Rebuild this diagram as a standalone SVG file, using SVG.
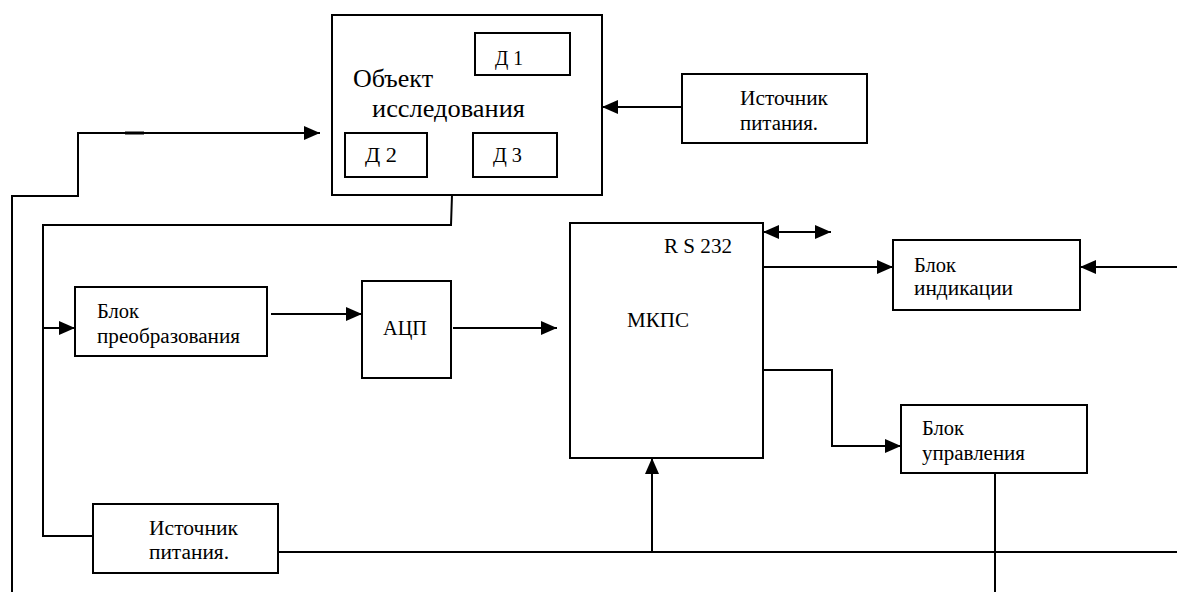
<svg xmlns="http://www.w3.org/2000/svg" width="1177" height="592" viewBox="0 0 1177 592">
<defs>
<marker id="ah" markerUnits="userSpaceOnUse" markerWidth="16" markerHeight="14" refX="16" refY="7" orient="auto-start-reverse">
<path d="M0,0 L16,7 L0,14 z" fill="#000"/>
</marker>
<style>
.box{fill:#fff;stroke:#000;stroke-width:2}
.ln{fill:none;stroke:#000;stroke-width:2}
text{font-family:"Liberation Serif","DejaVu Serif","Times New Roman",serif;font-size:20px;fill:#000}
text.big{font-size:25px}
</style>
</defs>
<rect width="1177" height="592" fill="#fff"/>
<g id="connectors">
<path class="ln" d="M12,592 V196 H78 V133 H320" marker-end="url(#ah)"/>
<path d="M125,133 H144" stroke="#000" stroke-width="3"/>
<path class="ln" d="M452,195 L451,225 H43 V536 H93"/>
<path class="ln" d="M43,328 H75" marker-end="url(#ah)"/>
<path class="ln" d="M271,314 H362" marker-end="url(#ah)"/>
<path class="ln" d="M453,328 H557" marker-end="url(#ah)"/>
<path class="ln" d="M685,107 H602" marker-end="url(#ah)"/>
<path class="ln" d="M763,232 H831" marker-start="url(#ah)" marker-end="url(#ah)"/>
<path class="ln" d="M763,267 H893" marker-end="url(#ah)"/>
<path class="ln" d="M1177,267 H1080" marker-end="url(#ah)"/>
<path class="ln" d="M763,370 H832 V446 H901" marker-end="url(#ah)"/>
<path class="ln" d="M278,552 H1177"/>
<path class="ln" d="M652,552 V458" marker-end="url(#ah)"/>
<path class="ln" d="M995,473 V592"/>
</g>
<g id="object">
<rect class="box" x="332" y="15" width="270" height="180"/>
<text class="big" x="353" y="87" textLength="80" lengthAdjust="spacingAndGlyphs">Объект</text>
<text class="big" x="372" y="117" textLength="153" lengthAdjust="spacingAndGlyphs">исследования</text>
</g>
<g id="d1">
<rect class="box" x="475" y="33" width="95" height="42"/>
<text x="495" y="65" textLength="28" lengthAdjust="spacingAndGlyphs">Д 1</text>
</g>
<g id="d2">
<rect class="box" x="345" y="133" width="82" height="44"/>
<text x="365" y="162" textLength="32" lengthAdjust="spacingAndGlyphs">Д 2</text>
</g>
<g id="d3">
<rect class="box" x="473" y="133" width="84" height="44"/>
<text x="493" y="162" textLength="29" lengthAdjust="spacingAndGlyphs">Д 3</text>
</g>
<g id="source-top">
<rect class="box" x="682" y="74" width="185" height="69"/>
<text x="740" y="105" textLength="88" lengthAdjust="spacingAndGlyphs">Источник</text>
<text x="740" y="130" textLength="78" lengthAdjust="spacingAndGlyphs">питания.</text>
</g>
<g id="converter">
<rect class="box" x="75" y="287" width="192" height="69"/>
<text x="97" y="318" textLength="42" lengthAdjust="spacingAndGlyphs">Блок</text>
<text x="97" y="343" textLength="143" lengthAdjust="spacingAndGlyphs">преобразования</text>
</g>
<g id="adc">
<rect class="box" x="362" y="281" width="89" height="97"/>
<text x="383" y="335" textLength="44" lengthAdjust="spacingAndGlyphs">АЦП</text>
</g>
<g id="mkps">
<rect class="box" x="570" y="223" width="193" height="235"/>
<text x="664" y="253" textLength="68" lengthAdjust="spacingAndGlyphs">R S 232</text>
<text x="627" y="327" textLength="62" lengthAdjust="spacingAndGlyphs">МКПС</text>
</g>
<g id="indication">
<rect class="box" x="893" y="240" width="187" height="70"/>
<text x="914" y="272" textLength="42" lengthAdjust="spacingAndGlyphs">Блок</text>
<text x="914" y="295" textLength="99" lengthAdjust="spacingAndGlyphs">индикации</text>
</g>
<g id="control">
<rect class="box" x="901" y="405" width="186" height="68"/>
<text x="922" y="435" textLength="42" lengthAdjust="spacingAndGlyphs">Блок</text>
<text x="922" y="460" textLength="103" lengthAdjust="spacingAndGlyphs">управления</text>
</g>
<g id="source-bottom">
<rect class="box" x="93" y="504" width="185" height="69"/>
<text x="149" y="535" textLength="89" lengthAdjust="spacingAndGlyphs">Источник</text>
<text x="149" y="559" textLength="80" lengthAdjust="spacingAndGlyphs">питания.</text>
</g>
</svg>
